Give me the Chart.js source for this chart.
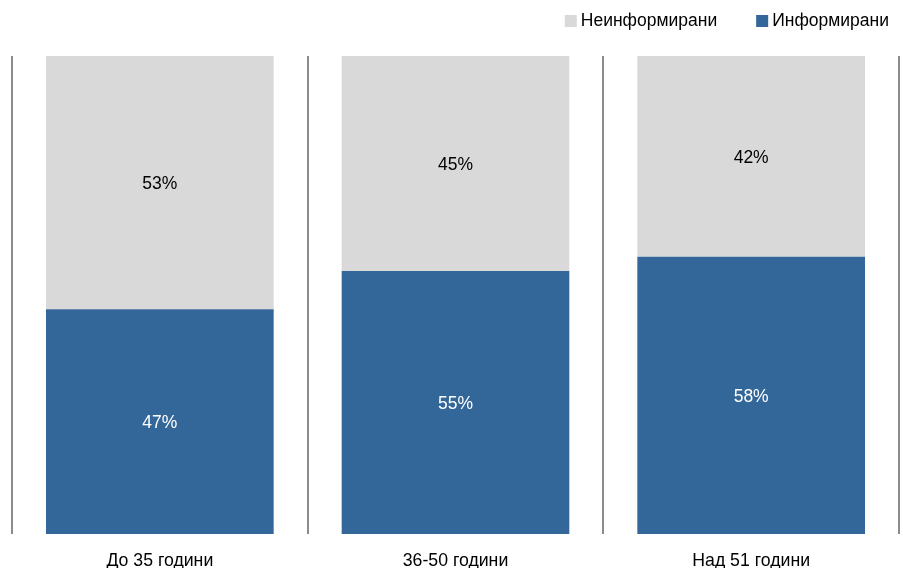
<!DOCTYPE html>
<html>
<head>
<meta charset="utf-8">
<script src="https://cdn.jsdelivr.net/npm/chart.js@4/dist/chart.umd.min.js"></script>
<style>
html,body{margin:0;padding:0;background:#fff;}
#wrap{width:903px;height:569px;}
</style>
</head>
<body>
<div id="wrap"><canvas id="c" width="903" height="569"></canvas></div>
<script>
const categories = ['До 35 години', '36-50 години', 'Над 51 години'];
const informed = [47, 55, 58];
const uninformed = [53, 45, 42];
const seriesNames = ['Информирани', 'Неинформирани'];

const FONT = '"Liberation Sans", Arial, sans-serif';

const labelPlugin = {
  id: 'segLabels',
  afterDatasetsDraw(chart) {
    const ctx = chart.ctx;
    ctx.save();
    ctx.font = '17.5px ' + FONT;
    ctx.textAlign = 'center';
    ctx.textBaseline = 'middle';
    chart.data.datasets.forEach((ds, di) => {
      const meta = chart.getDatasetMeta(di);
      meta.data.forEach((bar, i) => {
        const y = (bar.y + bar.base) / 2 + 2;
        ctx.fillStyle = ds.labelColor;
        ctx.fillText(ds.data[i] + '%', bar.x, y);
      });
    });
    ctx.restore();
  }
};

// custom top-right legend (reversed order, like the reference)
const legendPlugin = {
  id: 'topLegend',
  afterDraw(chart) {
    const ctx = chart.ctx;
    ctx.save();
    ctx.font = '17.5px ' + FONT;
    ctx.textBaseline = 'middle';
    ctx.textAlign = 'left';
    const items = chart.data.datasets.slice().reverse();
    const box = 12, gapBoxText = 4, gapItems = 39, rightEdge = 889, cy = 21;
    const widths = items.map(d => box + gapBoxText + ctx.measureText(d.label).width);
    const total = widths.reduce((a, b) => a + b, 0) + gapItems * (items.length - 1);
    let x = rightEdge - total;
    items.forEach((d, i) => {
      ctx.fillStyle = d.backgroundColor;
      ctx.fillRect(x, cy - box / 2, box, box);
      ctx.fillStyle = '#000';
      ctx.fillText(d.label, x + box + gapBoxText, cy);
      x += widths[i] + gapItems;
    });
    ctx.restore();
  }
};

new Chart(document.getElementById('c'), {
  type: 'bar',
  data: {
    labels: categories,
    datasets: [
      { label: seriesNames[0], data: informed, backgroundColor: '#336699', labelColor: '#ffffff' },
      { label: seriesNames[1], data: uninformed, backgroundColor: '#d9d9d9', labelColor: '#000000' }
    ]
  },
  options: {
    responsive: false,
    animation: false,
    layout: { padding: { left: 12, right: 4, top: 56, bottom: 1 } },
    datasets: { bar: { barPercentage: 1, categoryPercentage: 0.77 } },
    plugins: {
      legend: { display: false },
      tooltip: { enabled: false }
    },
    scales: {
      x: {
        stacked: true,
        offset: true,
        grid: { offset: true, drawTicks: false, color: '#8c8c8c', lineWidth: 2 },
        border: { display: false },
        ticks: { color: '#000', font: { family: FONT, size: 17.7, lineHeight: 1 }, padding: 18 },
        afterFit(scale) { scale.height = 34; }
      },
      y: {
        stacked: true,
        display: false,
        min: 0, max: 100
      }
    }
  },
  plugins: [labelPlugin, legendPlugin]
});
</script>
</body>
</html>
